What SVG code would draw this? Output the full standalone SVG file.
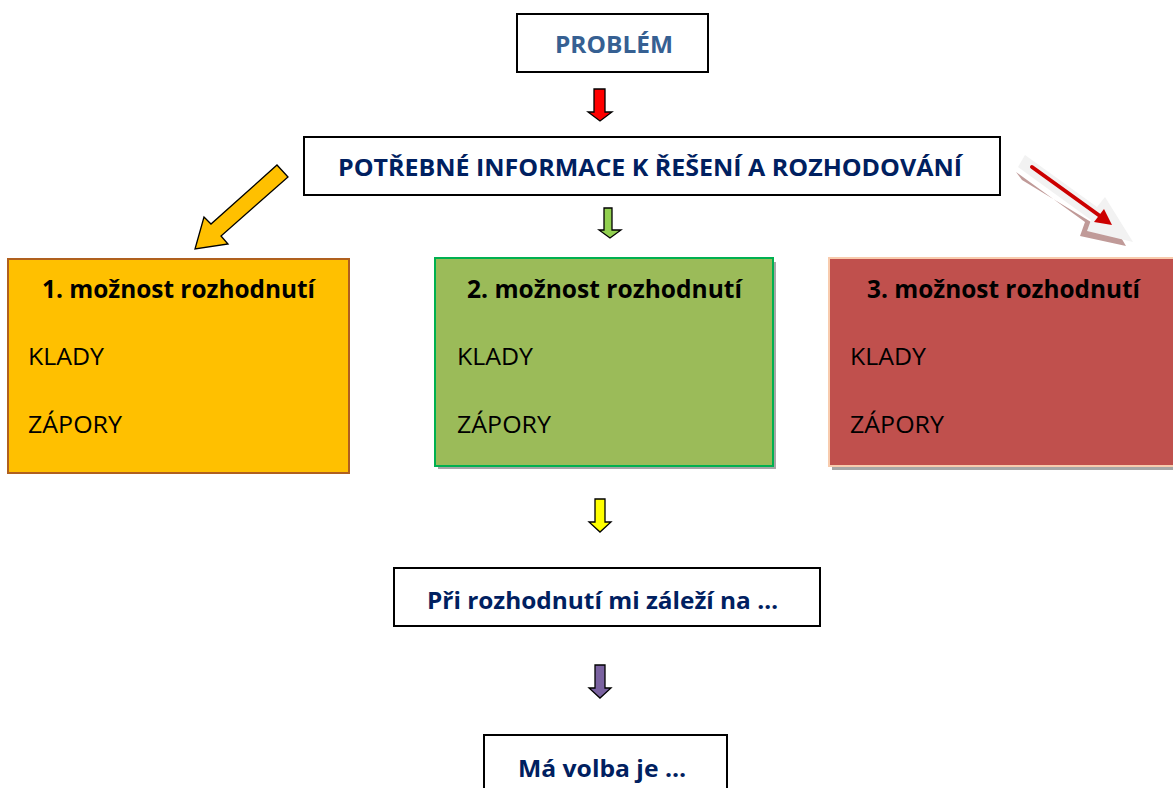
<svg xmlns="http://www.w3.org/2000/svg" width="1173" height="788" viewBox="0 0 1173 788">
<style>
.tb{fill:#ffffff;stroke:#000000;stroke-width:2}
.hd{font-family:"Open Sans","Liberation Sans",sans-serif;font-weight:bold;fill:#002060;font-size:23px}
.tt{font-family:"Open Sans","Liberation Sans",sans-serif;font-weight:bold;fill:#000000;font-size:25px}
.tx{font-family:"Open Sans","Liberation Sans",sans-serif;fill:#000000;font-size:24.5px}
.ar{stroke:#000000;stroke-width:1.3;stroke-linejoin:miter}
</style>
<rect width="1173" height="788" fill="#ffffff"/>
<g id="problem">
<rect class="tb" x="517" y="14" width="191" height="58"/>
<text class="hd" x="555" y="53" style="fill:#366092" textLength="118" lengthAdjust="spacingAndGlyphs">PROBLÉM</text>
</g>
<g id="informace">
<rect class="tb" x="304" y="137" width="696" height="58"/>
<text class="hd" x="338" y="176" textLength="624" lengthAdjust="spacingAndGlyphs">POTŘEBNÉ INFORMACE K ŘEŠENÍ A ROZHODOVÁNÍ</text>
</g>
<g id="moznost1">
<rect x="8" y="259" width="341" height="214" fill="#ffc000" stroke="#b0601e" stroke-width="2"/>
<text class="tt" x="42" y="298" textLength="273" lengthAdjust="spacingAndGlyphs">1. možnost rozhodnutí</text>
<text class="tx" x="28" y="365" textLength="76" lengthAdjust="spacingAndGlyphs">KLADY</text>
<text class="tx" x="28" y="433" textLength="94" lengthAdjust="spacingAndGlyphs">ZÁPORY</text>
</g>
<g id="moznost2">
<rect x="438" y="262" width="338" height="207" fill="#a6a6a6"/>
<rect x="435" y="258" width="338" height="208" fill="#9bbb59" stroke="#00b050" stroke-width="2"/>
<text class="tt" x="467" y="298" textLength="275" lengthAdjust="spacingAndGlyphs">2. možnost rozhodnutí</text>
<text class="tx" x="457" y="365" textLength="76" lengthAdjust="spacingAndGlyphs">KLADY</text>
<text class="tx" x="457" y="433" textLength="94" lengthAdjust="spacingAndGlyphs">ZÁPORY</text>
</g>
<g id="moznost3">
<rect x="832" y="262" width="341" height="208" fill="#a6a6a6"/>
<rect x="829" y="258" width="346" height="208" fill="#c0504d" stroke="#f8cbad" stroke-width="2"/>
<text class="tt" x="867" y="298" textLength="273" lengthAdjust="spacingAndGlyphs">3. možnost rozhodnutí</text>
<text class="tx" x="850" y="365" textLength="76" lengthAdjust="spacingAndGlyphs">KLADY</text>
<text class="tx" x="850" y="433" textLength="94" lengthAdjust="spacingAndGlyphs">ZÁPORY</text>
</g>
<g id="zalezi">
<rect class="tb" x="394" y="568" width="426" height="58"/>
<text class="hd" x="427" y="609" textLength="351" lengthAdjust="spacingAndGlyphs">Při rozhodnutí mi záleží na …</text>
</g>
<g id="volba">
<rect class="tb" x="484" y="735" width="243" height="60"/>
<text class="hd" x="518" y="777" textLength="168" lengthAdjust="spacingAndGlyphs">Má volba je …</text>
</g>
<g id="connectors">
<path class="ar" fill="#ff0000" d="M594,89 H605 V112 H612 L600,121 L588,112 H594 Z"/>
<path class="ar" fill="#92d050" d="M604,208 H612 V230 H621 L610,238 L599,230 H604 Z"/>
<path class="ar" fill="#ffff00" d="M595,499 H605 V522 H611 L600,532 L589,522 H595 Z"/>
<path class="ar" fill="#7a62a0" d="M595,665 H605 V688 H611 L600,698 L589,688 H595 Z"/>
<polygon class="ar" fill="#ffc000" stroke-width="1.6" points="277,165 288,177 221,236 228,244 195,249 204,217 211,224"/>
<polygon fill="#c09a98" points="1016,172 1085,222 1080,236 1126,246 1103,207 1091,222 1022,180"/>
<polygon fill="#f2f2f2" points="1025,155 1097,207 1105,197 1133,242 1087,231 1091,220 1018,167"/>
<line x1="1032" y1="167" x2="1100" y2="216" stroke="#cc0000" stroke-width="4" stroke-linecap="round"/>
<polygon fill="#cc0000" points="1112,225 1094,222 1104,209"/>
</g>
</svg>
